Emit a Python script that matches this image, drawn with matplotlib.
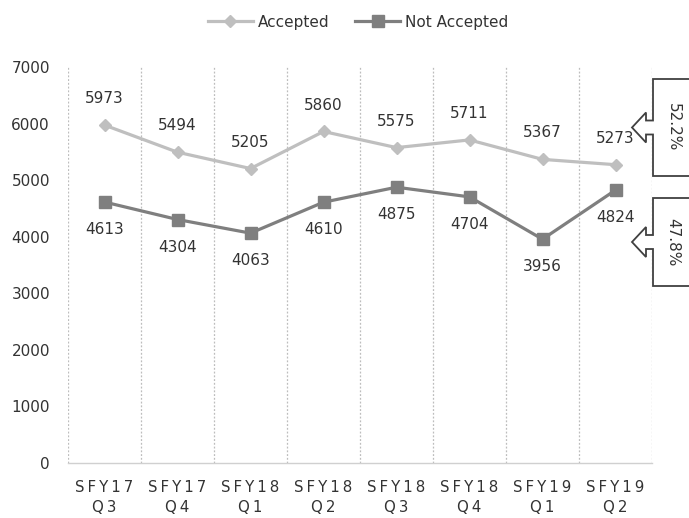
import matplotlib
matplotlib.use('Agg')
import matplotlib.pyplot as plt
from matplotlib.patches import Polygon
import numpy as np

fiscal_years = ['SFY17', 'SFY17', 'SFY18', 'SFY18', 'SFY18', 'SFY18', 'SFY19', 'SFY19']
quarters = ['Q3', 'Q4', 'Q1', 'Q2', 'Q3', 'Q4', 'Q1', 'Q2']
accepted = [5973, 5494, 5205, 5860, 5575, 5711, 5367, 5273]
not_accepted = [4613, 4304, 4063, 4610, 4875, 4704, 3956, 4824]
yticks = [0, 1000, 2000, 3000, 4000, 5000, 6000, 7000]

W, H = 689, 518
TXT = '#333333'
plt.rcParams['font.family'] = ['DejaVu Sans']

fig = plt.figure(figsize=(W / 100, H / 100), dpi=100)
ax = fig.add_axes([68 / W, (H - 463) / H, 584 / W, 396 / H])

x = np.arange(len(accepted))
ax.plot(x, accepted, color='#BFBFBF', lw=2.3, marker='D', ms=6.3,
        label='Accepted', zorder=3)
ax.plot(x, not_accepted, color='#7F7F7F', lw=2.3, marker='s', ms=8.8,
        label='Not Accepted', zorder=3)

ax.set_xlim(-0.5, len(x) - 0.5)
ax.set_ylim(yticks[0], yticks[-1])
for b in np.arange(-0.5, len(x), 1.0):
    ax.axvline(b, color='#BDBDBD', lw=0.9, ls=(0, (1.5, 1.5)), zorder=1)

for s in ['left', 'right', 'top']:
    ax.spines[s].set_visible(False)
ax.spines['bottom'].set_color('#D0D0D0')
ax.spines['bottom'].set_linewidth(1.0)

ax.set_yticks(yticks)
ax.set_yticklabels([str(v) for v in yticks])
sp = '\u2009'
ax.set_xticks(x)
ax.set_xticklabels([sp.join(f) + '\n' + sp.join(q) for f, q in zip(fiscal_years, quarters)],
                   linespacing=1.45)
ax.tick_params(axis='y', length=0, pad=13, labelsize=11, labelcolor=TXT)
ax.tick_params(axis='x', length=0, pad=12, labelsize=10.8, labelcolor=TXT)

for xi, v in zip(x, accepted):
    ax.annotate(str(v), (xi, v), xytext=(0, 19), textcoords='offset points',
                ha='center', va='center', fontsize=11, color=TXT)
for xi, v in zip(x, not_accepted):
    ax.annotate(str(v), (xi, v), xytext=(0, -20), textcoords='offset points',
                ha='center', va='center', fontsize=11, color=TXT)

fig.legend(loc='center', bbox_to_anchor=(358 / W, 1 - 22 / H), ncol=2, frameon=False,
           fontsize=11, handlelength=2.95, handletextpad=0.3, columnspacing=1.7,
           labelcolor=TXT)

# callouts showing latest quarter share
last_total = accepted[-1] + not_accepted[-1]
shares = [accepted[-1] / last_total * 100, not_accepted[-1] / last_total * 100]
boxes = [(79, 176), (198, 286)]


def fx(px):
    return px / W


def fy(py):
    return 1 - py / H


for (top, bot), share in zip(boxes, shares):
    mid = (top + bot) / 2
    pts = [(700, top), (653, top), (653, mid - 7), (646, mid - 7), (646, mid - 15),
           (632, mid), (646, mid + 15), (646, mid + 7), (653, mid + 7), (653, bot),
           (700, bot)]
    poly = Polygon([(fx(a), fy(b)) for a, b in pts], closed=True, facecolor='white',
                   edgecolor='#404040', lw=1.3, transform=fig.transFigure, zorder=5)
    fig.patches.append(poly)
    fig.text(fx(673), fy(mid), f'{share:.1f}%', rotation=270, ha='center', va='center',
             fontsize=11, color=TXT, zorder=6)

fig.savefig('out.png', dpi=100)
